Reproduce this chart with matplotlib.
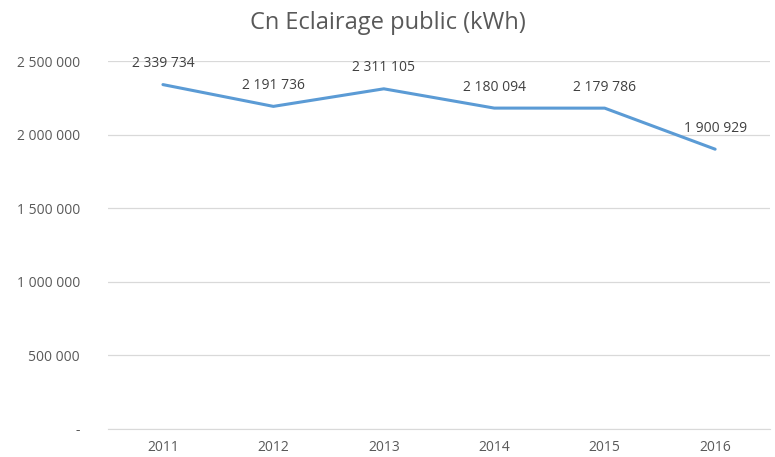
import matplotlib
matplotlib.use('Agg')
import matplotlib.pyplot as plt
from matplotlib.ticker import FuncFormatter

years = ['2011', '2012', '2013', '2014', '2015', '2016']
consumption = [2339734, 2191736, 2311105, 2180094, 2179786, 1900929]
yticks = [0, 500000, 1000000, 1500000, 2000000, 2500000]


def fmt_fr(v, pos=None):
    if v == 0:
        return '-'
    return f"{int(round(v)):,}".replace(',', ' ')


plt.rcParams['font.family'] = ['Open Sans', 'DejaVu Sans']

fig = plt.figure(figsize=(7.75, 4.57), dpi=100)
ax = fig.add_axes([0.139, 0.0613, 0.855, 0.8052])

x = list(range(len(years)))
ax.plot(x, consumption, color='#5B9BD5', lw=2.2, solid_capstyle='round', zorder=3)
for xi, v in zip(x, consumption):
    ax.annotate(fmt_fr(v), (xi, v), xytext=(0, 15), textcoords='offset points',
                ha='center', va='center', fontsize=10, color='#404040', zorder=4)

ax.set_xlim(-0.5, len(years) - 0.5)
ax.set_ylim(0, 2500000)
ax.set_yticks(yticks)
ax.yaxis.set_major_formatter(FuncFormatter(fmt_fr))
ax.set_xticks(x)
ax.set_xticklabels(years)
ax.grid(axis='y', color='#D9D9D9', lw=0.9)
ax.set_axisbelow(True)
for s in ['top', 'right', 'left']:
    ax.spines[s].set_visible(False)
ax.spines['bottom'].set_color('#D9D9D9')
ax.tick_params(axis='both', length=0, labelsize=10, colors='#595959')
ax.tick_params(axis='y', pad=20)
ax.tick_params(axis='x', pad=8)

fig.suptitle('Cn Eclairage public (kWh)', x=0.5, y=0.975, fontsize=17, color='#595959')

fig.savefig('out.png', dpi=100)
